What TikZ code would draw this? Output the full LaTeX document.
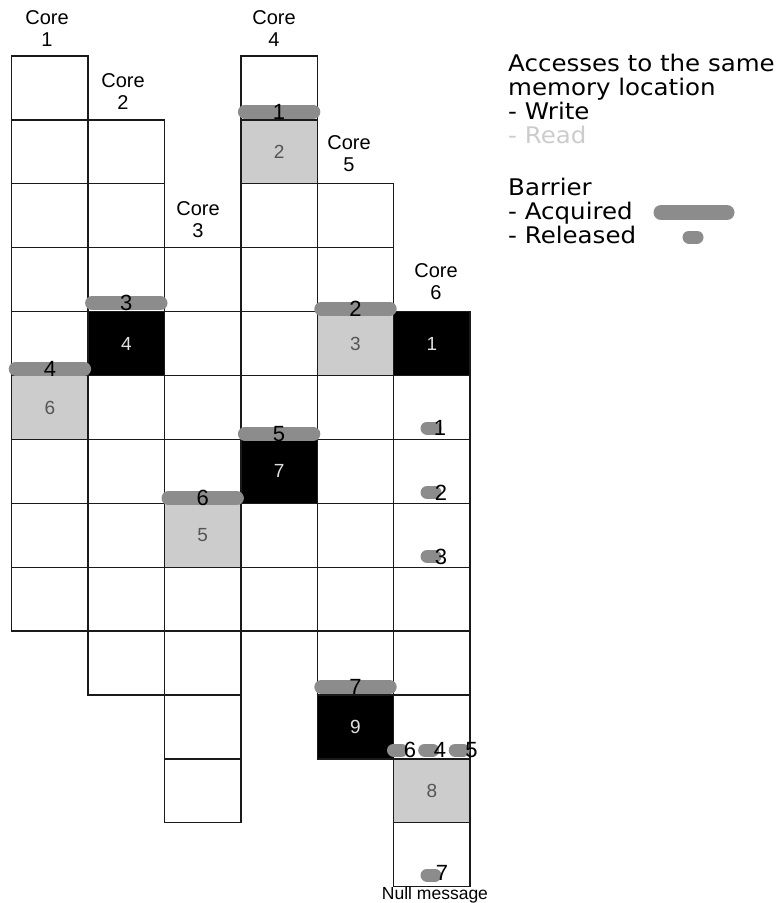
\documentclass[tikz,border=0pt]{standalone}
\usepackage{fontspec}
\setmainfont{Liberation Sans}
\newfontfamily\legendfont[FakeStretch=1.07]{DejaVu Sans}
\definecolor{barg}{HTML}{8C8C8C}
\definecolor{lightg}{HTML}{CCCCCC}
\definecolor{numdark}{HTML}{555555}
\definecolor{numlight}{HTML}{E0E0E0}
\definecolor{gridc}{HTML}{1A1A1A}
\newcommand\myX[1]{11.7+76.4*(#1-1)}
\newcommand\myY[1]{56+63.9*(#1)}
\begin{document}
\begin{tikzpicture}[x=1pt,y=-1pt,
 cellbox/.style={draw=gridc,line width=1.3pt},
 acqbar/.style={line width=14pt,line cap=round,draw=barg},
 relbar/.style={line width=13pt,line cap=round,draw=barg},
 bnum/.style={font=\fontsize{22}{22}\selectfont,inner sep=0pt},
 cnum/.style={font=\fontsize{19}{19}\selectfont,inner sep=0pt},
 corelab/.style={font=\fontsize{20}{22.5}\selectfont,align=center,inner sep=0pt,anchor=south},
 legtext/.style={font=\legendfont\fontsize{22.9}{24}\selectfont,align=left,inner sep=0pt,anchor=base west},
]
\useasboundingbox (0,0) rectangle (781,903);
% filled cells
\foreach \c/\r/\f in {4/1/lightg,2/4/black,1/5/lightg,5/4/lightg,6/4/black,4/6/black,3/7/lightg,5/10/black,6/11/lightg}{
  \fill[\f] ({\myX{\c}},{\myY{\r}}) rectangle ++(76.4,63.9);
}
% grid
\foreach \c/\t in {1/0,2/1,3/3,4/0,5/2,6/4}{
  \foreach \k in {0,...,8}{
    \draw[cellbox] ({\myX{\c}},{\myY{\t+\k}}) rectangle ++(76.4,63.9);
  }
}
% cell numbers
\node[cnum,text=numdark]  (c2) at ({\myX{4}+38.2},{\myY{1}+32}) {2};
\node[cnum,text=numlight] (c4) at ({\myX{2}+38.2},{\myY{4}+32}) {4};
\node[cnum,text=numdark]  (c6) at ({\myX{1}+38.2},{\myY{5}+32}) {6};
\node[cnum,text=numdark]  (c3) at ({\myX{5}+38.2},{\myY{4}+32}) {3};
\node[cnum,text=numlight] (c1) at ({\myX{6}+38.2},{\myY{4}+32}) {1};
\node[cnum,text=numlight] (c7) at ({\myX{4}+38.2},{\myY{6}+32}) {7};
\node[cnum,text=numdark]  (c5) at ({\myX{3}+38.2},{\myY{7}+32}) {5};
\node[cnum,text=numlight] (c9) at ({\myX{5}+38.2},{\myY{10}+32}) {9};
\node[cnum,text=numdark]  (c8) at ({\myX{6}+38.2},{\myY{11}+32}) {8};
% acquired barriers
\foreach \c/\r/\o/\n in {4/1/8/1,5/4/3/2,2/4/8.5/3,1/5/6.5/4,4/6/5.5/5,3/7/5/6,5/10/8/7}{
  \draw[acqbar] ({\myX{\c}+4},{\myY{\r}-\o}) -- ({\myX{\c}+72.4},{\myY{\r}-\o});
  \node[bnum] (a\n) at ({\myX{\c}+38.2},{\myY{\r}-\o}) {\n};
}
% released barriers
\foreach \x/\y/\nx/\n/\name in {431/428/440/1/r1,431/492.5/441/2/r2,431/556.5/441/3/r3,397.5/750/410/6/r6,428.7/750/440/4/r4,459.2/750/471.5/5/r5}{
  \draw[relbar] ({\x-4},\y) -- ({\x+4},\y);
  \node[bnum] (\name) at (\nx,\y) {\n};
}
\draw[relbar] (427,875) -- (435,875);
\node[bnum] (r7) at (442,873) {7};
% core labels
\node[corelab] (k1) at (47,46.7) {Core\\1};
\node[corelab] (k2) at (123,110) {Core\\2};
\node[corelab] (k3) at (198,238) {Core\\3};
\node[corelab] (k4) at (274,46.7) {Core\\4};
\node[corelab] (k5) at (349,172) {Core\\5};
\node[corelab] (k6) at (436,300) {Core\\6};
% null message
\node[font=\fontsize{17.5}{17.5}\selectfont,inner sep=0pt,anchor=base] (nm) at (435,899) {Null message};
% legend
\node[legtext] (leg1) at (508,143.7) {Accesses to the same\\memory location\\- Write\\{\color{lightg}- Read}};
\node[legtext] (leg2) at (508,243) {Barrier\\- Acquired\\- Released};
\draw[acqbar,line width=15pt] (661,212.5) -- (727,212.5);
\draw[relbar] (689,237) -- (697,237);
\end{tikzpicture}
\end{document}
